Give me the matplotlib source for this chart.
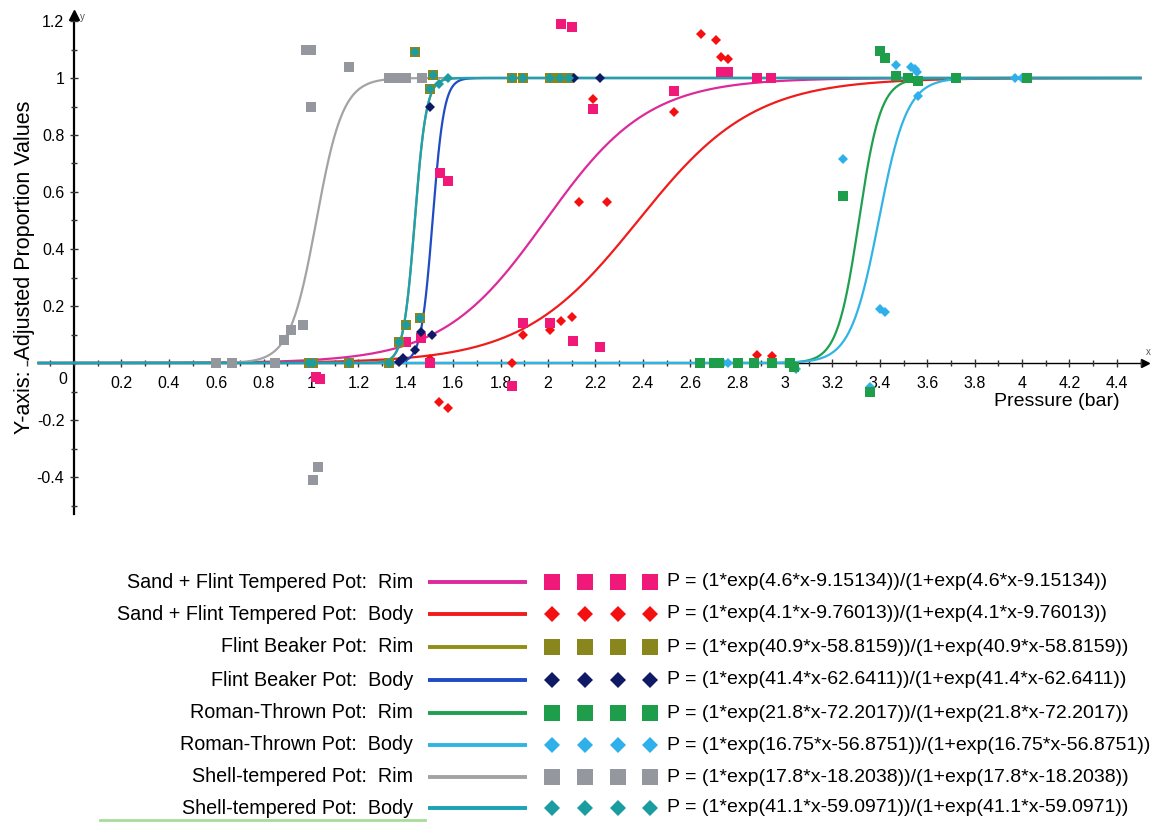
import numpy as np
import matplotlib
matplotlib.use("Agg")
import matplotlib.pyplot as plt
from matplotlib.ticker import MultipleLocator, FuncFormatter

plt.rcParams['font.family'] = ['Liberation Sans', 'DejaVu Sans']

# serie: nazwa, parametry krzywej logistycznej, kolory
nazwy = ["Sand + Flint Tempered Pot:  Rim", "Sand + Flint Tempered Pot:  Body",
         "Flint Beaker Pot:  Rim", "Flint Beaker Pot:  Body",
         "Roman-Thrown Pot:  Rim", "Roman-Thrown Pot:  Body",
         "Shell-tempered Pot:  Rim", "Shell-tempered Pot:  Body"]
wsp_a = [4.6, 4.1, 40.9, 41.4, 21.8, 16.75, 17.8, 41.1]
wsp_b = [9.15134, 9.76013, 58.8159, 62.6411, 72.2017, 56.8751, 18.2038, 59.0971]
kolor_linii = ['#dd2a9b', '#ef1c1c', '#8f8f14', '#1f4bc4', '#1fa04e', '#31b3e6', '#a3a3a3', '#1ba2b6']
kolor_punktow = ['#f0197a', '#f41010', '#8a861e', '#0f1a66', '#1e9e4a', '#2fb0ea', '#94989e', '#1a9ca0']
znaczniki = ['s', 'D', 's', 'D', 's', 'D', 's', 'D']

# punkty pomiarowe
sf_rim_x = [1.02, 1.04, 1.40, 1.465, 1.50, 1.545, 1.58, 1.85, 1.894, 2.01, 2.055, 2.10, 2.105, 2.19, 2.22, 2.53, 2.73, 2.76, 2.88, 2.94]
sf_rim_y = [-0.05, -0.056, 0.073, 0.087, 0.0, 0.667, 0.64, -0.08, 0.14, 0.14, 1.19, 1.18, 0.077, 0.89, 0.056, 0.955, 1.02, 1.02, 1.0, 1.0]
sf_body_x = [1.50, 1.54, 1.58, 1.85, 1.894, 2.01, 2.055, 2.10, 2.13, 2.19, 2.25, 2.53, 2.645, 2.71, 2.73, 2.76, 2.88, 2.945]
sf_body_y = [0.015, -0.137, -0.158, 0.0, 0.098, 0.116, 0.147, 0.16, 0.565, 0.925, 0.565, 0.88, 1.155, 1.135, 1.075, 1.065, 0.028, 0.025]
fb_rim_x = [0.99, 1.01, 1.16, 1.33, 1.37, 1.40, 1.44, 1.46, 1.50, 1.515, 1.85, 1.895, 2.01, 2.05, 2.09]
fb_rim_y = [0, 0, 0, 0, 0.074, 0.133, 1.09, 0.157, 0.96, 1.01, 1, 1, 1, 1, 1]
fb_body_x = [1.37, 1.39, 1.44, 1.465, 1.50, 1.51, 2.11, 2.22]
fb_body_y = [0.005, 0.017, 0.046, 0.11, 0.90, 0.10, 1.0, 1.0]
rt_rim_x = [2.64, 2.70, 2.72, 2.80, 2.87, 2.945, 3.02, 3.04, 3.245, 3.36, 3.40, 3.42, 3.47, 3.52, 3.56, 3.72, 4.02]
rt_rim_y = [0, 0, 0, 0, 0, 0, 0, -0.015, 0.585, -0.10, 1.095, 1.07, 1.007, 1.0, 0.99, 1.0, 1.0]
rt_body_x = [2.74, 2.76, 2.87, 2.945, 3.02, 3.045, 3.245, 3.36, 3.40, 3.42, 3.47, 3.53, 3.55, 3.555, 3.56, 3.72, 3.97, 4.00]
rt_body_y = [0, 0, 0, 0, 0, -0.02, 0.715, -0.085, 0.19, 0.18, 1.045, 1.04, 1.03, 1.02, 0.937, 1.0, 1.0, 1.0]
st_rim_x = [0.60, 0.665, 0.85, 0.886, 0.915, 0.966, 0.98, 1.0, 1.0, 1.01, 1.03, 1.16, 1.33, 1.37, 1.40, 1.47]
st_rim_y = [0, 0, 0, 0.08, 0.115, 0.135, 1.10, 1.10, 0.90, -0.41, -0.365, 1.04, 1, 1, 1, 1]
st_body_x = [0.99, 1.01, 1.16, 1.33, 1.37, 1.40, 1.44, 1.46, 1.50, 1.515, 1.54, 1.58, 1.85, 1.895, 2.01, 2.05, 2.09]
st_body_y = [0, 0, 0, 0, 0.074, 0.133, 1.09, 0.157, 0.96, 1.01, 0.98, 1.0, 1, 1, 1, 1, 1]

punkty_x = [sf_rim_x, sf_body_x, fb_rim_x, fb_body_x, rt_rim_x, rt_body_x, st_rim_x, st_body_x]
punkty_y = [sf_rim_y, sf_body_y, fb_rim_y, fb_body_y, rt_rim_y, rt_body_y, st_rim_y, st_body_y]
rozmiar = [7.5, 5.5, 7.5, 5.5, 7.5, 5.5, 7.5, 4.8]


def logistyczna(x, a, b):
    e = np.exp(a * x - b)
    return (1 * e) / (1 + e)


fig = plt.figure(figsize=(11.57, 8.23), dpi=100)
W, H = 1157, 823

# os glowna: x -> px = 74 + 237*x, y -> py = 363 - 285*y
x_min, x_max = -0.2, 4.55
y_min, y_max = -0.55, 1.25
lewo = (74 + 237 * x_min) / W
prawo = (74 + 237 * x_max) / W
gora = 1 - (363 - 285 * y_max) / H
dol = 1 - (363 - 285 * y_min) / H
ax = fig.add_axes([lewo, dol, prawo - lewo, gora - dol])
ax.set_xlim(x_min, x_max)
ax.set_ylim(y_min, y_max)

for s in ['top', 'right']:
    ax.spines[s].set_visible(False)
ax.spines['left'].set_position(('data', 0))
ax.spines['bottom'].set_position(('data', 0))
ax.spines['left'].set_bounds(-0.53, 1.22)
ax.spines['bottom'].set_bounds(-0.15, 4.52)
ax.spines['left'].set_linewidth(1.6)
ax.spines['bottom'].set_linewidth(1.0)
ax.spines['left'].set_zorder(1)
ax.spines['bottom'].set_zorder(1)
ax.plot([0], [1.22], marker='^', color='k', markersize=7, clip_on=False, zorder=1)
ax.plot([4.52], [0], marker='>', color='k', markersize=6, clip_on=False, zorder=1)

ax.xaxis.set_major_locator(MultipleLocator(0.2))
ax.xaxis.set_minor_locator(MultipleLocator(0.1))
ax.yaxis.set_major_locator(MultipleLocator(0.2))
ax.yaxis.set_minor_locator(MultipleLocator(0.1))


def fmt(v, pos):
    if abs(v) < 1e-9:
        return ""
    return "%g" % round(v, 2)


ax.xaxis.set_major_formatter(FuncFormatter(fmt))
ax.yaxis.set_major_formatter(FuncFormatter(fmt))
ax.set_xticks([t for t in np.arange(0.2, 4.41, 0.2)])
ax.set_yticks([-0.4, -0.2, 0.2, 0.4, 0.6, 0.8, 1.0, 1.2])
ax.tick_params(axis='both', which='both', direction='inout', color='#333333', width=1)
ax.tick_params(axis='both', which='major', length=6, labelsize=11.5, pad=4)
ax.tick_params(axis='x', which='major', pad=6)
ax.tick_params(axis='both', which='minor', length=4)
ax.text(-0.03, -0.03, "0", fontsize=11.5, ha='right', va='top')

xs = np.linspace(-0.15, 4.5, 1500)
for i in range(len(nazwy)):
    ax.plot(xs, logistyczna(xs, wsp_a[i], wsp_b[i]), color=kolor_linii[i], linewidth=1.6, zorder=2 + i * 0.01)

kolejnosc = [1, 0, 2, 3, 5, 4, 6, 7]
for i in kolejnosc:
    ax.plot(punkty_x[i], punkty_y[i], linestyle='none', marker=znaczniki[i], markersize=rozmiar[i],
            color=kolor_punktow[i], markeredgewidth=0, zorder=3 + kolejnosc.index(i) * 0.1, clip_on=False)

fig.text(25 / W, 1 - 267 / H, "Y-axis:  Adjusted Proportion Values", rotation=90,
         fontsize=15.5, ha='center', va='center')
fig.text(1057 / W, 1 - 401 / H, "Pressure (bar)", fontsize=14, ha='center', va='center')
fig.text(1148 / W, 1 - 352 / H, "x", fontsize=7, ha='center', va='center', color='#555555')
fig.text(82 / W, 1 - 17 / H, "y", fontsize=7, ha='center', va='center', color='#555555')

# legenda w pikselach figury
lg = fig.add_axes([0, 0, 1, 1])
lg.set_xlim(0, W)
lg.set_ylim(H, 0)
lg.axis('off')
wiersze_y = [582, 614, 647, 680, 713, 745, 777, 808]
znacznik_x = [552, 585, 618, 650]
for i in range(len(nazwy)):
    yy = wiersze_y[i]
    lg.text(413, yy, nazwy[i], fontsize=14.2, ha='right', va='center')
    lg.plot([428, 527], [yy, yy], color=kolor_linii[i], linewidth=2.8, solid_capstyle='butt')
    lg.plot(znacznik_x, [yy] * 4, linestyle='none', marker=znaczniki[i],
            markersize=11.5 if znaczniki[i] == 's' else 8.5, color=kolor_punktow[i], markeredgewidth=0)
    a = ("%g" % wsp_a[i])
    b = ("%g" % wsp_b[i])
    rownanie = "P = (1*exp(%s*x-%s))/(1+exp(%s*x-%s))" % (a, b, a, b)
    lg.text(667, yy, rownanie, fontsize=14.0, ha='left', va='center')
lg.plot([100, 425], [820, 820], color='#a8dc9c', linewidth=2)

fig.savefig("out.png", dpi=100)
